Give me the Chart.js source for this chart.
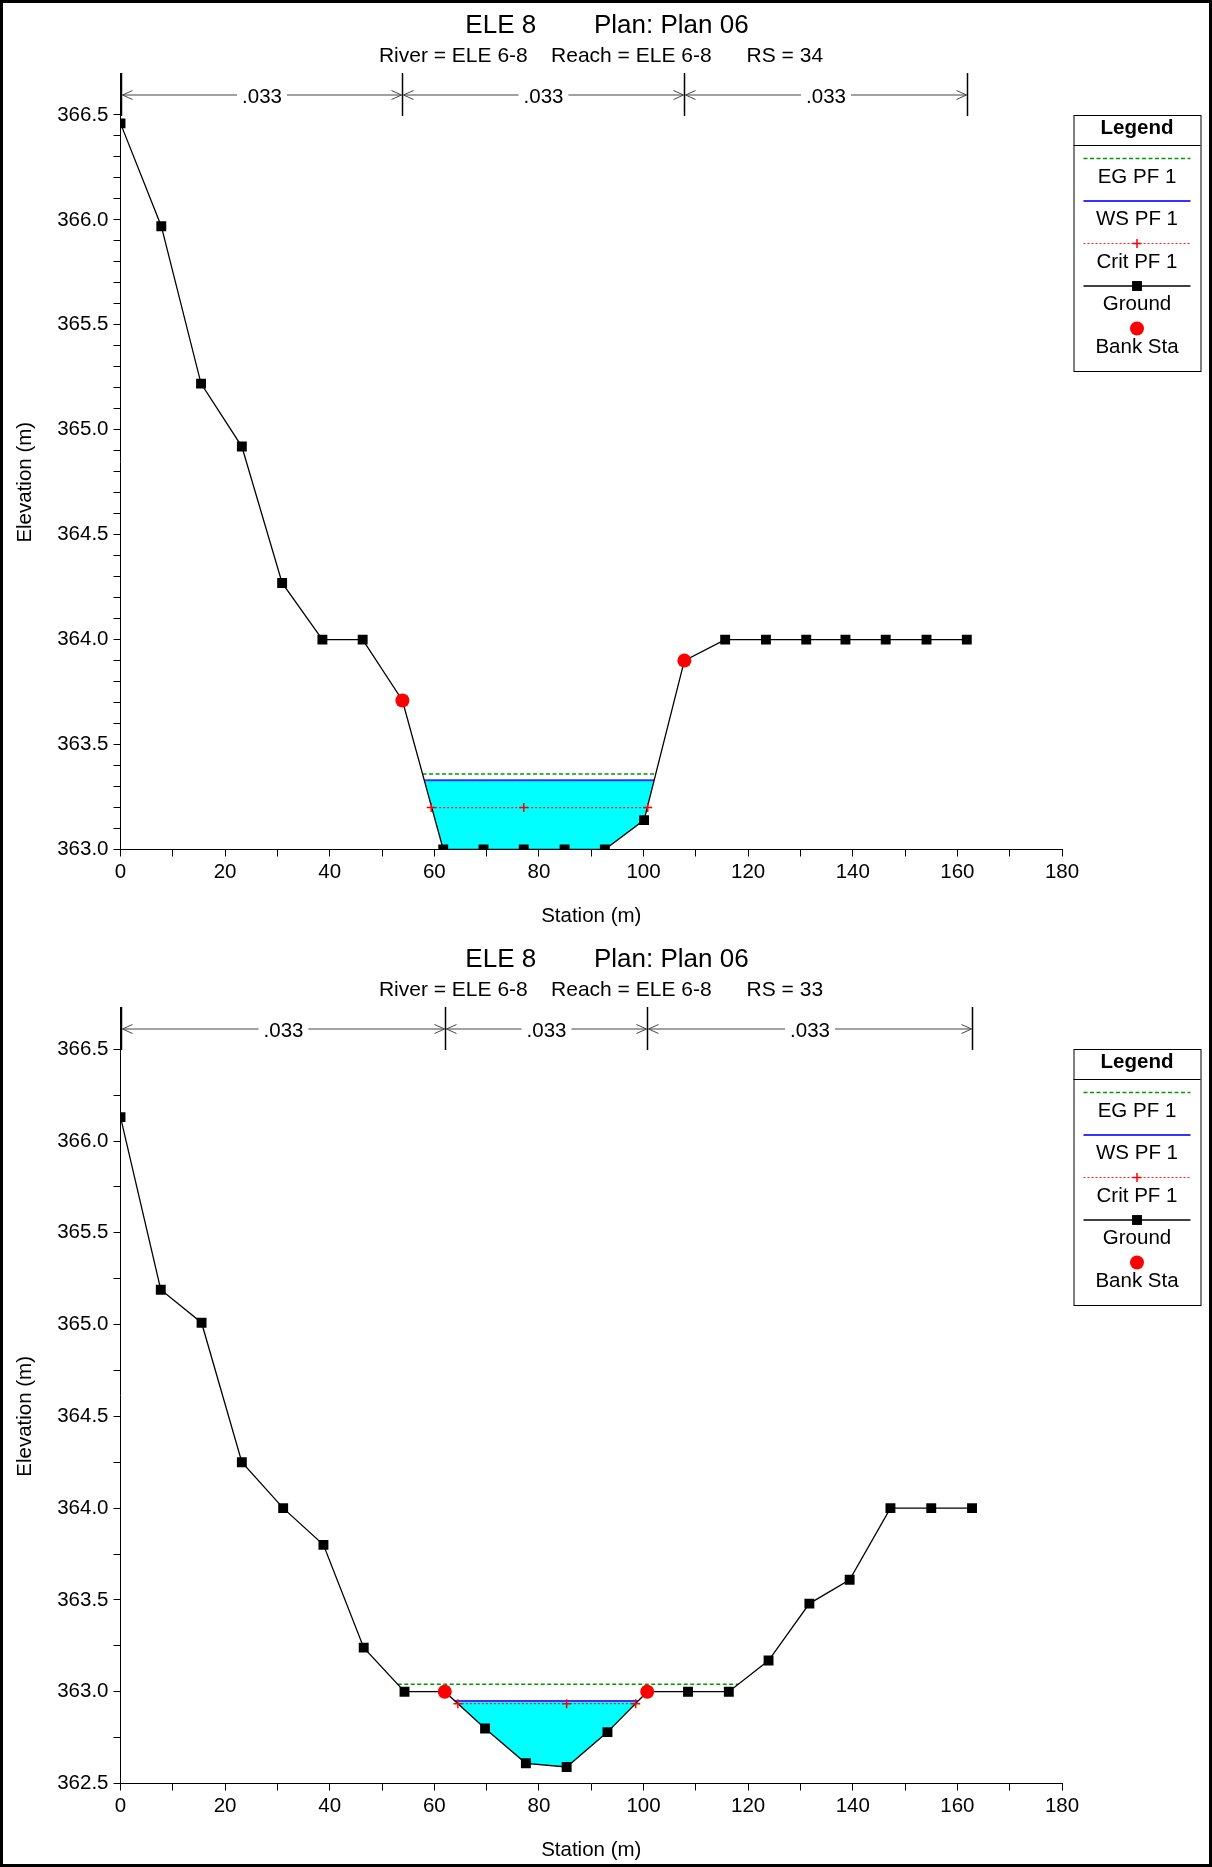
<!DOCTYPE html>
<html>
<head>
<meta charset="utf-8">
<title>ELE 8 cross sections</title>
<script src="https://cdn.jsdelivr.net/npm/chart.js@4.4.1/dist/chart.umd.min.js"></script>
<style>
  html, body { margin: 0; padding: 0; background: #fff; }
  #page { position: relative; width: 1212px; height: 1867px; }
  #page canvas { position: absolute; left: 0; }
  #frame { position: absolute; left: 0; top: 0; width: 1212px; height: 1867px;
           box-sizing: border-box; border: 3px solid #000; pointer-events: none; }
</style>
</head>
<body>
<div id="page">
  <canvas id="rs34" width="1212" height="933" style="top:0"></canvas>
  <canvas id="rs33" width="1212" height="933" style="top:934px"></canvas>
  <div id="frame"></div>
</div>
<script>
const FONT = "'Liberation Sans', Arial, Helvetica, sans-serif";

// ---- RS 34 ----
const station34 = [0, 7.8, 15.4, 23.2, 30.9, 38.6, 46.3, 53.9, 61.7, 69.4, 77.1, 84.9, 92.6, 100.1, 107.8, 115.6, 123.4, 131.1, 138.6, 146.3, 154.1, 161.8];
const ground34 = [366.46, 365.97, 365.22, 364.92, 364.27, 364.0, 364.0, 363.71, 363.0, 363.0, 363.0, 363.0, 363.0, 363.14, 363.9, 364.0, 364.0, 364.0, 364.0, 364.0, 364.0, 364.0];
const bank34 = [53.9, 107.8];
const manning34 = ['.033', '.033', '.033'];
const eg34 = 363.36;
const ws34 = 363.33;
const crit34 = 363.2;
const critX34 = [59.4, 77.1, 100.8];
const yRange34 = [363.0, 366.7];
const yMinor34 = 0.1;

// ---- RS 33 ----
const station33 = [0, 7.7, 15.5, 23.2, 31.1, 38.8, 46.5, 54.3, 62.0, 69.7, 77.5, 85.3, 93.1, 100.7, 108.5, 116.3, 123.9, 131.7, 139.4, 147.2, 155.0, 162.8];
const ground33 = [366.13, 365.19, 365.01, 364.25, 364.0, 363.8, 363.24, 363.0, 363.0, 362.8, 362.61, 362.59, 362.78, 363.0, 363.0, 363.0, 363.17, 363.48, 363.61, 364.0, 364.0, 364.0];
const bank33 = [62.0, 100.7];
const manning33 = ['.033', '.033', '.033'];
const eg33 = 363.04;
const ws33 = 362.95;
const crit33 = 362.935;
const critX33 = [64.5, 85.3, 98.5];
const yRange33 = [362.5, 366.73];
const yMinor33 = 0.25;

// axes
const xRange = [0, 180];
const xStep = 10;
const xLabelStep = 20;
const yLabelTop = 366.5;   // highest labelled elevation
const yLabelStep = 0.5;

// plot box inside each canvas (px)
const PLOT = { left: 120.5, top: 73, right: 1062, bottom: 849.5 };

function elevAt(xs, ys, x) {
  for (let i = 1; i < xs.length; i++) {
    if (x <= xs[i]) {
      const t = (x - xs[i - 1]) / (xs[i] - xs[i - 1]);
      return ys[i - 1] + t * (ys[i] - ys[i - 1]);
    }
  }
  return ys[ys.length - 1];
}

// ground below a water level, with the crossing points at the edges
function wetted(xs, ys, level) {
  const pts = [];
  for (let i = 0; i < xs.length; i++) {
    if (i > 0 && (ys[i - 1] - level) * (ys[i] - level) < 0) {
      const t = (level - ys[i - 1]) / (ys[i] - ys[i - 1]);
      pts.push({ x: xs[i - 1] + t * (xs[i] - xs[i - 1]), y: level });
    }
    if (ys[i] < level) pts.push({ x: xs[i], y: ys[i] });
  }
  return pts;
}

function levelLine(xs, ys, level) {
  const w = wetted(xs, ys, level);
  return [{ x: w[0].x, y: level }, { x: w[w.length - 1].x, y: level }];
}

function drawLegend(chart) {
  const { ctx, chartArea } = chart;
  const left = chartArea.right + 11.5, top = chartArea.top + 42, w = 127, h = 256;
  ctx.save();
  ctx.fillStyle = '#fff';
  ctx.fillRect(left, top, w, h);
  ctx.strokeStyle = '#000';
  ctx.lineWidth = 1;
  ctx.strokeRect(left + 0.5, top + 0.5, w, h);
  ctx.beginPath();
  ctx.moveTo(left, top + 30.5);
  ctx.lineTo(left + w, top + 30.5);
  ctx.stroke();

  ctx.fillStyle = '#000';
  ctx.textAlign = 'center';
  ctx.textBaseline = 'middle';
  ctx.font = 'bold 20.5px ' + FONT;
  ctx.fillText('Legend', left + w / 2, top + 13.5);

  let y = top + 43.5;
  chart.data.datasets.filter(d => d.label).forEach(d => {
    if (d.showLine) {
      ctx.save();
      ctx.strokeStyle = d.borderColor;
      ctx.lineWidth = d.borderWidth;
      ctx.setLineDash(d.borderDash || []);
      ctx.beginPath();
      ctx.moveTo(left + 10, y);
      ctx.lineTo(left + w - 10, y);
      ctx.stroke();
      ctx.restore();
    }
    if (d.pointRadius > 0) {
      ctx.save();
      ctx.fillStyle = d.pointBackgroundColor;
      ctx.strokeStyle = d.pointBorderColor;
      ctx.lineWidth = d.pointBorderWidth;
      Chart.helpers.drawPoint(ctx, {
        pointStyle: d.pointStyle, radius: d.pointRadius, rotation: 0, borderWidth: d.pointBorderWidth
      }, left + w / 2, y);
      ctx.restore();
    }
    ctx.fillStyle = '#000';
    ctx.font = '20.5px ' + FONT;
    ctx.fillText(d.label, left + w / 2, y + 18.5);
    y += 42.5;
  });
  ctx.restore();
}

// Manning's n bar along the top of the plot
function drawManning(chart, xs, labels) {
  const { ctx, chartArea, scales } = chart;
  const yLine = chartArea.top + 22, yBot = chartArea.top + 43;
  const px = xs.map(v => Math.round(scales.x.getPixelForValue(v)) + 0.5);
  ctx.save();
  ctx.strokeStyle = '#000';
  ctx.lineWidth = 1.5;
  px.forEach(p => {
    ctx.beginPath();
    ctx.moveTo(p, chartArea.top);
    ctx.lineTo(p, yBot);
    ctx.stroke();
  });
  ctx.font = '20.5px ' + FONT;
  ctx.textAlign = 'center';
  ctx.textBaseline = 'middle';
  ctx.fillStyle = '#000';
  ctx.strokeStyle = '#444';
  ctx.lineWidth = 1;
  for (let i = 0; i < labels.length; i++) {
    const a = px[i] + 1, b = px[i + 1] - 1, mid = (a + b) / 2;
    const tw = ctx.measureText(labels[i]).width;
    ctx.beginPath();
    ctx.moveTo(a, yLine); ctx.lineTo(mid - tw / 2 - 5, yLine);
    ctx.moveTo(mid + tw / 2 + 5, yLine); ctx.lineTo(b, yLine);
    ctx.moveTo(a + 10, yLine - 4.5); ctx.lineTo(a, yLine); ctx.lineTo(a + 10, yLine + 4.5);
    ctx.moveTo(b - 10, yLine - 4.5); ctx.lineTo(b, yLine); ctx.lineTo(b - 10, yLine + 4.5);
    ctx.stroke();
    ctx.fillText(labels[i], mid, yLine + 2);
  }
  ctx.restore();
}

function sectionPlugin(s) {
  return {
    id: 'section' + s.rs,
    afterDraw(chart) {
      const { ctx, scales } = chart;
      ctx.save();
      ctx.fillStyle = '#000';
      ctx.textAlign = 'center';
      ctx.textBaseline = 'alphabetic';
      ctx.font = '26px ' + FONT;
      ctx.fillText('ELE 8        Plan: Plan 06', chart.width / 2 + 1, 33);
      ctx.font = '21px ' + FONT;
      ctx.fillText('River = ELE 6-8    Reach = ELE 6-8      RS = ' + s.rs, chart.width / 2 - 5, 61.5);

      // y title centred on the labelled part of the axis
      const yc = (scales.y.getPixelForValue(s.yRange[0]) + scales.y.getPixelForValue(yLabelTop)) / 2;
      ctx.translate(25, yc);
      ctx.rotate(-Math.PI / 2);
      ctx.textBaseline = 'middle';
      ctx.font = '20.5px ' + FONT;
      ctx.fillText('Elevation (m)', 0, 0);
      ctx.restore();

      drawManning(chart, [s.station[0], s.bank[0], s.bank[1], s.station[s.station.length - 1]], s.manning);
      drawLegend(chart);
    }
  };
}

function makeSection(id, s) {
  const ground = s.station.map((x, i) => ({ x, y: s.ground[i] }));
  const banks = s.bank.map(x => ({ x, y: elevAt(s.station, s.ground, x) }));
  const crit = s.critX.map(x => ({ x, y: s.crit }));

  return new Chart(document.getElementById(id), {
    type: 'scatter',
    data: {
      datasets: [
        {
          label: 'EG PF 1', data: levelLine(s.station, s.ground, s.eg), showLine: true,
          borderColor: '#009a00', borderWidth: 1.5, borderDash: [4, 2.5], pointRadius: 0, order: 4
        },
        {
          label: 'WS PF 1', data: levelLine(s.station, s.ground, s.ws), showLine: true,
          borderColor: '#3434ff', borderWidth: 2, pointRadius: 0, order: 3
        },
        {
          label: 'Crit PF 1', data: crit, showLine: true,
          borderColor: '#ff2020', borderWidth: 1.2, borderDash: [2, 2],
          pointStyle: 'cross', pointRadius: 4.5, pointBorderWidth: 1.5,
          pointBorderColor: '#ff0000', pointBackgroundColor: '#ff0000', order: 1
        },
        {
          label: 'Ground', data: ground, showLine: true,
          borderColor: '#000', borderWidth: 1.3,
          pointStyle: 'rect', pointRadius: 7, pointBorderWidth: 0,
          pointBorderColor: '#000', pointBackgroundColor: '#000', order: 2
        },
        {
          label: 'Bank Sta', data: banks, showLine: false,
          pointStyle: 'circle', pointRadius: 7, pointBorderWidth: 0,
          pointBorderColor: '#ff0000', pointBackgroundColor: '#ff0000', order: 0
        },
        {
          data: wetted(s.station, s.ground, s.ws), showLine: true,
          borderColor: 'rgba(0,0,0,0)', borderWidth: 0, pointRadius: 0,
          backgroundColor: '#00ffff', fill: { value: s.ws }, order: 5
        }
      ]
    },
    options: {
      responsive: false,
      animation: false,
      devicePixelRatio: 1,
      events: [],
      layout: { padding: { left: 0, top: PLOT.top, right: 1212 - PLOT.right, bottom: 0 } },
      plugins: { legend: { display: false }, tooltip: { enabled: false } },
      scales: {
        x: {
          type: 'linear', min: xRange[0], max: xRange[1],
          afterFit: sc => { sc.height = 933 - PLOT.bottom; },
          border: { color: '#000', width: 1 },
          grid: { drawOnChartArea: false, color: '#000', tickLength: 7 },
          ticks: {
            stepSize: xStep, autoSkip: false, maxRotation: 0, padding: 4,
            color: '#000', font: { size: 20.5 },
            callback: v => (v % xLabelStep === 0 ? String(v) : '')
          },
          title: {
            display: true, text: 'Station (m)', color: '#000',
            font: { size: 20.5 }, padding: { top: 0, bottom: 4 }
          }
        },
        y: {
          type: 'linear', min: s.yRange[0], max: s.yRange[1],
          afterFit: sc => { sc.width = PLOT.left; },
          afterBuildTicks: sc => {
            const n = Math.round((yLabelTop - s.yRange[0]) / s.yMinor);
            const t = [];
            for (let i = 0; i <= n; i++) t.push({ value: +(s.yRange[0] + i * s.yMinor).toFixed(3) });
            sc.ticks = t;
          },
          border: { color: '#000', width: 1 },
          grid: { drawOnChartArea: false, color: '#000', tickLength: 7 },
          ticks: {
            stepSize: s.yMinor, autoSkip: false, padding: 5,
            color: '#000', font: { size: 20.5 },
            callback: v => {
              const k = v / yLabelStep;
              return Math.abs(k - Math.round(k)) < 1e-6 ? v.toFixed(1) : '';
            }
          }
        }
      }
    },
    plugins: [sectionPlugin(s)]
  });
}

makeSection('rs34', {
  rs: '34', station: station34, ground: ground34, bank: bank34, manning: manning34,
  eg: eg34, ws: ws34, crit: crit34, critX: critX34, yRange: yRange34, yMinor: yMinor34
});
makeSection('rs33', {
  rs: '33', station: station33, ground: ground33, bank: bank33, manning: manning33,
  eg: eg33, ws: ws33, crit: crit33, critX: critX33, yRange: yRange33, yMinor: yMinor33
});
</script>
</body>
</html>
